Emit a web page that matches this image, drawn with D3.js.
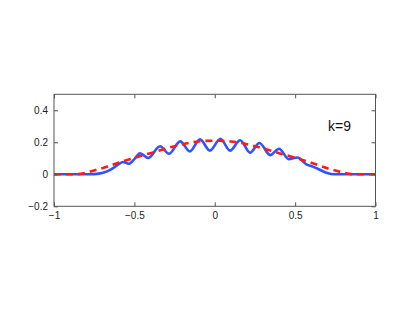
<!DOCTYPE html>
<html><head><meta charset="utf-8">
<script src="https://cdn.jsdelivr.net/npm/d3@7"></script>
<style>body{margin:0;background:#fff}svg{display:block}text{font-family:"Liberation Sans",Arial,sans-serif}</style>
</head><body><svg id="c" width="415" height="312"></svg>
<script>
const xTicks = [-1, -0.5, 0, 0.5, 1];
const yTicks = [-0.2, 0, 0.2, 0.4];
const label = "k=9";
// red dashed target curve
const redX = [-1,-0.9,-0.85,-0.8,-0.75,-0.7,-0.65,-0.6,-0.55,-0.5,-0.45,-0.4,-0.35,-0.3,-0.25,-0.2,-0.15,-0.1,-0.05,0,0.05,0.1,0.15,0.2,0.25,0.3,0.35,0.4,0.45,0.5,0.55,0.6,0.65,0.7,0.75,0.8,0.85,0.9,1];
const redY = [0,0,0.001,0.01,0.024,0.038,0.055,0.072,0.088,0.103,0.118,0.132,0.147,0.162,0.176,0.188,0.198,0.205,0.209,0.21,0.209,0.205,0.198,0.188,0.176,0.162,0.147,0.132,0.118,0.103,0.088,0.072,0.055,0.038,0.024,0.01,0.001,0,0];
// blue approximation (k=9)
const blueX = [-1,-0.85,-0.78,-0.72,-0.67,-0.63,-0.6,-0.57,-0.535,-0.5,-0.465,-0.415,-0.34,-0.285,-0.215,-0.155,-0.092,-0.03,0.035,0.095,0.158,0.22,0.278,0.345,0.4,0.46,0.515,0.57,0.61,0.65,0.7,0.74,1];
const blueY = [0,0,0,0.004,0.018,0.04,0.062,0.077,0.066,0.095,0.132,0.102,0.175,0.128,0.206,0.143,0.218,0.148,0.222,0.148,0.213,0.135,0.196,0.12,0.16,0.095,0.105,0.062,0.048,0.03,0.008,0,0];

const svg = d3.select("#c");
const L = 54, R = 375.5, T = 94.3, B = 206.3;
const x = d3.scaleLinear().domain([-1, 1]).range([L, R]);
const y = d3.scaleLinear().domain([-0.2, 0.5]).range([B, T]);

svg.append("rect").attr("width",415).attr("height",312).attr("fill","#fff");

const line = d3.line().x(d=>x(d[0])).y(d=>y(d[1])).curve(d3.curveMonotoneX);
const g = svg.append("g");
g.append("path").datum(blueX.map((v,i)=>[v,blueY[i]])).attr("d",line)
  .attr("fill","none").attr("stroke","#2f52ff").attr("stroke-width",2.6).attr("stroke-linejoin","round");
g.append("path").datum(redX.map((v,i)=>[v,redY[i]])).attr("d",line)
  .attr("fill","none").attr("stroke","#ff1a1a").attr("stroke-width",2.6).attr("stroke-dasharray","7,5");

// axes
const ac = "#555";
const ax = d3.axisBottom(x).tickValues(xTicks).tickSize(-4).tickPadding(6).tickFormat(d=>d===0?"0":d3.format("")(d).replace("-","\u2212"));
const axT = d3.axisTop(x).tickValues(xTicks).tickSize(-4).tickFormat("");
const ay = d3.axisLeft(y).tickValues(yTicks).tickSize(-4).tickPadding(6).tickFormat(d=>d===0?"0":d3.format("")(d).replace("-","\u2212"));
const ayR = d3.axisRight(y).tickValues(yTicks).tickSize(-4).tickFormat("");
function style(sel){sel.select(".domain").remove();sel.selectAll("line").attr("stroke",ac);sel.selectAll("text").attr("fill","#222").attr("font-size",10);}
svg.append("g").attr("transform",`translate(0,${B})`).call(ax).call(style);
svg.append("g").attr("transform",`translate(0,${T})`).call(axT).call(style);
svg.append("g").attr("transform",`translate(${L},0)`).call(ay).call(style);
svg.append("g").attr("transform",`translate(${R},0)`).call(ayR).call(style);
svg.append("rect").attr("x",L).attr("y",T).attr("width",R-L).attr("height",B-T).attr("fill","none").attr("stroke",ac).attr("stroke-width",1);

svg.append("text").attr("x",x(0.705)).attr("y",y(0.27)).attr("font-size",14).attr("fill","#111").text(label);
</script></body></html>
